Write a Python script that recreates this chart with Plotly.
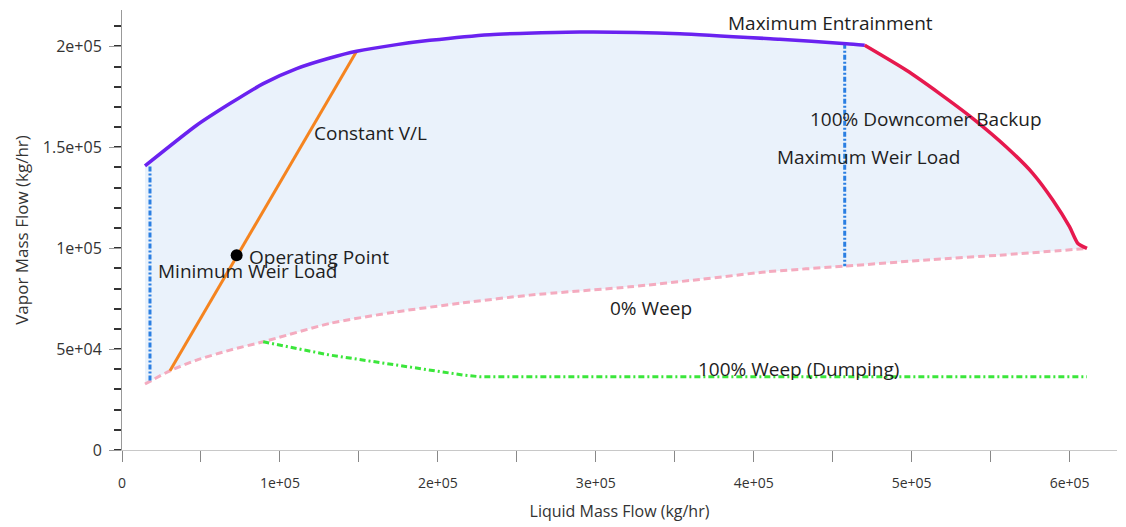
import plotly.graph_objects as go

# ---- data (kg/hr) ----
entr_x = [14557, 47278, 68354, 89430, 110570, 131646, 148544, 173861, 194937, 232911, 289873, 353165, 416456, 458671, 470253]
entr_y = [140743, 160891, 171634, 181535, 188960, 194208, 197525, 200842, 202970, 205792, 207079, 206287, 203465, 201337, 200495]

dcb_x = [470253, 496646, 517722, 538797, 559937, 576772, 589430, 600000, 605253, 611000]
dcb_y = [200495, 188119, 176584, 164208, 150149, 136980, 123762, 110545, 102327, 99852]

weep0_x = [14557, 30380, 47278, 68354, 89430, 131646, 173861, 216013, 258228, 321519, 365823, 408038, 457595, 513481, 555696, 611000]
weep0_y = [32673, 39257, 44554, 49505, 53614, 62723, 68465, 72921, 76733, 80842, 84505, 88267, 91089, 94406, 96535, 99852]

weep100_x = [89430, 131646, 173861, 216013, 226582, 611000]
weep100_y = [53614, 47030, 42079, 37129, 36300, 36300]

minweir_x = [17722, 17722]
minweir_y = [140500, 34000]

maxweir_x = [457595, 457595]
maxweir_y = [201300, 91089]

vl_x = [30380, 148544]
vl_y = [39257, 197525]

op_x = [72595]
op_y = [96535]

x_tickvals = [0, 100000, 200000, 300000, 400000, 500000, 600000]
x_ticktext = ["0", "1e+05", "2e+05", "3e+05", "4e+05", "5e+05", "6e+05"]
y_tickvals = [0, 50000, 100000, 150000, 200000]
y_ticktext = ["0", "5e+04", "1e+05", "1.5e+05", "2e+05"]

labels = ["Maximum Entrainment", "Constant V/L", "100% Downcomer Backup", "Maximum Weir Load",
          "Operating Point", "Minimum Weir Load", "0% Weep", "100% Weep (Dumping)"]
label_x = [448734, 120253, 434177, 413291, 79114, 21519, 307595, 363291]
label_y = [211386, 156931, 163861, 145050, 95545, 88614, 70297, 40099]
label_anchor = ["center", "left", "left", "left", "left", "left", "left", "left"]

FONT = "Open Sans, Noto Sans, sans-serif"

fig = go.Figure()

# stable region fill
poly_x = entr_x + dcb_x + weep0_x[::-1]
poly_y = entr_y + dcb_y + weep0_y[::-1]
fig.add_trace(go.Scatter(x=poly_x, y=poly_y, fill="toself", fillcolor="#eaf2fb",
                         line=dict(width=0, shape="spline", smoothing=0.6), mode="lines", hoverinfo="skip"))

fig.add_trace(go.Scatter(x=weep0_x, y=weep0_y, mode="lines",
                         line=dict(color="#f4abbf", width=3, dash="7px,4px", shape="spline", smoothing=0.6)))
fig.add_trace(go.Scatter(x=weep100_x, y=weep100_y, mode="lines",
                         line=dict(color="#3be63b", width=3, dash="6px,3px,2px,3px")))
fig.add_trace(go.Scatter(x=minweir_x, y=minweir_y, mode="lines",
                         line=dict(color="#2b7fe2", width=3, dash="5px,2px,2px,2px")))
fig.add_trace(go.Scatter(x=maxweir_x, y=maxweir_y, mode="lines",
                         line=dict(color="#2b7fe2", width=3, dash="5px,2px,2px,2px")))
fig.add_trace(go.Scatter(x=vl_x, y=vl_y, mode="lines",
                         line=dict(color="#f5841f", width=3)))
fig.add_trace(go.Scatter(x=entr_x, y=entr_y, mode="lines",
                         line=dict(color="#6a22f0", width=3.5, shape="spline", smoothing=0.6)))
fig.add_trace(go.Scatter(x=dcb_x, y=dcb_y, mode="lines",
                         line=dict(color="#e6194e", width=3.5, shape="spline", smoothing=0.6)))
fig.add_trace(go.Scatter(x=op_x, y=op_y, mode="markers",
                         marker=dict(color="black", size=12)))

for t, x, y, a in zip(labels, label_x, label_y, label_anchor):
    fig.add_annotation(x=x, y=y, text=t, showarrow=False, xanchor=a, yanchor="middle",
                       font=dict(family=FONT, size=19, color="#1e1e1e"))

fig.update_layout(
    width=1126, height=527,
    margin=dict(l=122, r=9, t=10, b=77),
    paper_bgcolor="white", plot_bgcolor="white",
    showlegend=False,
    font=dict(family=FONT, color="#333"),
    xaxis=dict(range=[0, 630000], tickmode="array", tickvals=x_tickvals, ticktext=x_ticktext,
               showgrid=False, zeroline=False, showline=True, linecolor="#c8c8c8", linewidth=1,
               ticks="outside", ticklen=11, tickcolor="#888", tickwidth=1, ticklabelstandoff=9,
               minor=dict(tickmode="linear", tick0=0, dtick=50000, ticks="outside", ticklen=11,
                          tickcolor="#888", tickwidth=1),
               tickfont=dict(size=14, color="#333"),
               title=dict(text="Liquid Mass Flow (kg/hr)", font=dict(size=16, color="#333"), standoff=15)),
    yaxis=dict(range=[0, 218000], tickmode="array", tickvals=y_tickvals, ticktext=y_ticktext,
               showgrid=False, zeroline=False, showline=True, linecolor="#999", linewidth=1,
               ticks="outside", ticklen=12, tickcolor="#999", tickwidth=1, ticklabelstandoff=4,
               minor=dict(tickmode="linear", tick0=0, dtick=10000, ticks="outside", ticklen=7,
                          tickcolor="#333", tickwidth=2),
               tickfont=dict(size=16, color="#333"),
               title=dict(text="Vapor Mass Flow (kg/hr)", font=dict(size=17, color="#333"), standoff=9)),
)

fig.write_html("out.html")
